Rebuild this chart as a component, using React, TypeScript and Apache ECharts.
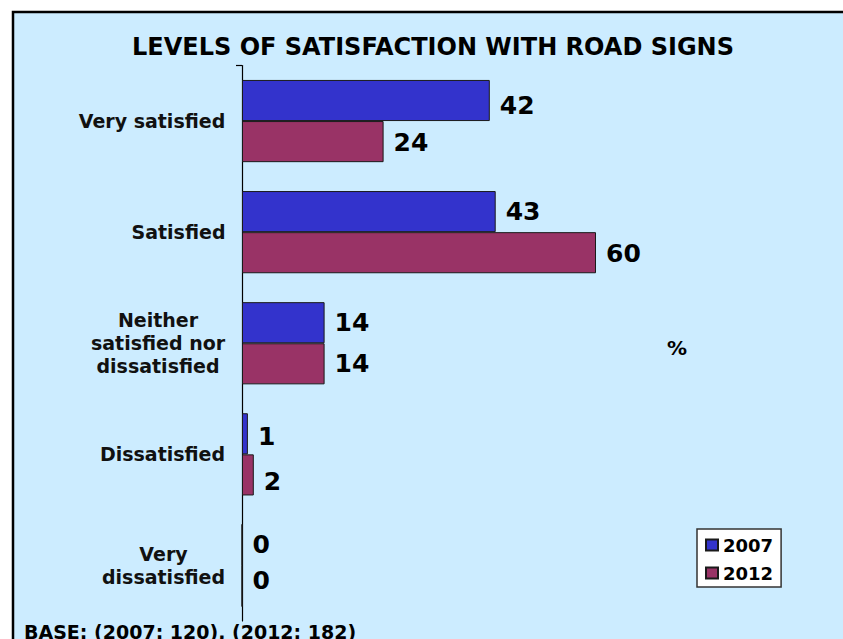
import React, { useEffect, useRef } from "react";
import * as echarts from "echarts";

const titleText = "LEVELS OF SATISFACTION WITH ROAD SIGNS";
const categories = [
  "Very satisfied",
  "Satisfied",
  "Neither\nsatisfied nor\ndissatisfied",
  "Dissatisfied",
  "Very\ndissatisfied",
];
const seriesNames = ["2007", "2012"];
const values2007 = [42, 43, 14, 1, 0];
const values2012 = [24, 60, 14, 2, 0];
const unitText = "%";
const baseText = "BASE: (2007: 120), (2012: 182)";

// small vertical nudges of individual value labels, as in the original
const labelNudge2007 = [5, 0, 0, 3, 0];
const labelNudge2012 = [1, 1, 0, 7, -6];

const FONT = '"DejaVu Sans", Verdana, sans-serif';

function measure(text: string, size: number): number {
  const c = document.createElement("canvas");
  const ctx = c.getContext("2d");
  if (!ctx) return text.length * size * 0.6;
  ctx.font = `bold ${size}px "DejaVu Sans"`;
  return ctx.measureText(text).width;
}

export default function App() {
  const ref = useRef<HTMLDivElement>(null);
  useEffect(() => {
    if (!ref.current) return;
    const chart = echarts.init(ref.current, undefined, { renderer: "svg" });
    const labelSize = 19;
    const rich: Record<string, any> = {};
    categories.forEach((c, i) => {
      const w = Math.max(...c.split("\n").map((l) => measure(l, labelSize)));
      rich["c" + i] = {
        width: Math.ceil(w) + 1,
        align: "center",
        fontSize: labelSize,
        fontWeight: "bold",
        fontFamily: FONT,
        color: "#111",
        lineHeight: 23,
      };
    });
    const gridLeft = 242;
    const gridTop = 65.5;
    const valueLabel = {
      show: true,
      position: "right",
      distance: 10,
      fontSize: 25,
      fontWeight: "bold",
      color: "#000",
      fontFamily: FONT,
    };
    const mk = (vals: number[], nudges: number[]) =>
      vals.map((v, i) => ({ value: v, label: { offset: [0, nudges[i]] } }));
    chart.setOption({
      animation: false,
      backgroundColor: "#ffffff",
      textStyle: { fontFamily: FONT },
      grid: { left: gridLeft, right: 11, top: gridTop, bottom: 18, containLabel: false },
      xAxis: {
        type: "value",
        min: 0,
        max: 100,
        show: false,
      },
      yAxis: {
        type: "category",
        inverse: true,
        data: categories,
        axisLine: { show: true, lineStyle: { color: "#000", width: 1.2 } },
        axisTick: { show: false },
        axisLabel: {
          margin: 16,
          formatter: (v: string, i: number) =>
            v
              .split("\n")
              .map((l) => `{c${i}|${l}}`)
              .join("\n"),
          rich,
        },
      },
      legend: {
        orient: "vertical",
        left: 697,
        top: 529,
        backgroundColor: "#ffffff",
        borderColor: "#333",
        borderWidth: 1.5,
        borderRadius: 0,
        padding: [7, 8, 5, 8],
        itemWidth: 12,
        itemHeight: 11,
        itemGap: 10,
        icon: "rect",
        data: seriesNames,
        textStyle: { fontSize: 18, fontWeight: "bold", color: "#000", fontFamily: FONT },
      },
      series: [
        {
          name: seriesNames[0],
          type: "bar",
          data: mk(values2007, labelNudge2007),
          barGap: "0%",
          barCategoryGap: "26%",
          itemStyle: { color: "#3333CC", borderColor: "#1a1a1a", borderWidth: 1 },
          label: valueLabel,
        },
        {
          name: seriesNames[1],
          type: "bar",
          data: mk(values2012, labelNudge2012),
          barGap: "0%",
          barCategoryGap: "26%",
          itemStyle: { color: "#993366", borderColor: "#1a1a1a", borderWidth: 1 },
          label: valueLabel,
        },
      ],
      graphic: [
        {
          type: "rect",
          z: -10,
          silent: true,
          shape: { x: 13, y: 12, width: 900, height: 700 },
          style: { fill: "#CCECFF", stroke: "#000", lineWidth: 2.5 },
        },
        {
          type: "line",
          silent: true,
          shape: { x1: gridLeft - 6, y1: gridTop, x2: gridLeft, y2: gridTop },
          style: { stroke: "#000", lineWidth: 1.2 },
        },
        {
          type: "text",
          x: 433,
          y: 47,
          style: {
            text: titleText,
            fill: "#000",
            font: `bold 24px ${FONT}`,
            align: "center",
            verticalAlign: "middle",
          },
        },
        {
          type: "text",
          x: 677,
          y: 348,
          style: {
            text: unitText,
            fill: "#000",
            font: `bold 20px ${FONT}`,
            align: "center",
            verticalAlign: "middle",
          },
        },
        {
          type: "text",
          x: 24,
          y: 632,
          style: {
            text: baseText,
            fill: "#000",
            font: `bold 19px ${FONT}`,
            align: "left",
            verticalAlign: "middle",
          },
        },
      ],
    });
    return () => chart.dispose();
  }, []);
  return (
    <div
      ref={ref}
      style={{ position: "fixed", left: 0, top: 0, width: 843, height: 639 }}
    />
  );
}
